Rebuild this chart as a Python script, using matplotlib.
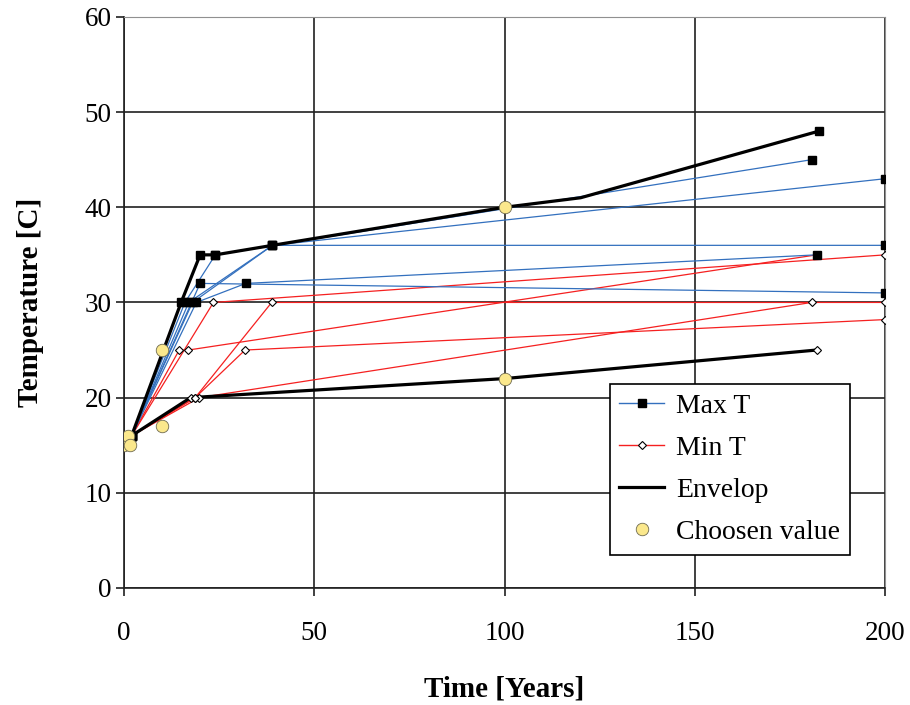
import matplotlib
matplotlib.use("Agg")
import matplotlib.pyplot as plt
from matplotlib.lines import Line2D

plt.rcParams['font.family'] = ['Liberation Serif', 'DejaVu Serif']

# Max T scenarios (time in years, temperature in C)
max_t = [
    [2, 15, 20, 24, 39, 100, 120, 182.6],
    [2, 16, 24, 180.7],
    [2, 17, 39, 200],
    [2, 18, 39, 200],
    [2, 19, 32, 182],
    [2, 20, 200],
]
max_T = [
    [16, 30, 35, 35, 36, 40, 41, 48],
    [16, 30, 35, 45],
    [16, 30, 36, 36],
    [16, 30, 36, 43],
    [16, 30, 32, 35],
    [16, 32, 31],
]
max_marked = [[1, 2, 3, 4, 7], None, None, None, None, None]

# Min T scenarios
min_t = [
    [2, 17.5, 100, 182],
    [2, 18.7, 38.8, 200],
    [2, 19.8, 180.7],
    [2, 18.7, 31.8, 200],
    [2, 14.5, 16.9, 182],
    [2, 23.5, 200],
]
min_T = [
    [16, 20, 22, 25],
    [16, 20, 30, 30],
    [16, 20, 30],
    [16, 20, 25, 28.2],
    [16, 25, 25, 35],
    [16, 30, 35],
]

# Envelopes
env_hi_t = [2, 15, 20, 24, 39, 100, 120, 182.6]
env_hi_T = [16, 30, 35, 35, 36, 40, 41, 48]
env_lo_t = [2, 17.5, 100, 182]
env_lo_T = [16, 20, 22, 25]

# Chosen values
chosen_t = [0, 1, 1.5, 10, 10, 100, 100]
chosen_T = [15, 16, 15, 25, 17, 40, 22]

blue = '#3370be'
red = '#f52020'

fig = plt.figure(figsize=(9.1, 7.05), dpi=100)
ax = fig.add_axes([0.1363, 0.166, 0.8363, 0.81])

for t, T in zip(min_t, min_T):
    ax.plot(t, T, color=red, lw=0.9, zorder=2)
for t, T in zip(max_t, max_T):
    ax.plot(t, T, color=blue, lw=0.9, zorder=3)

ax.plot(env_hi_t, env_hi_T, color='black', lw=2.3, zorder=4)
ax.plot(env_lo_t, env_lo_T, color='black', lw=2.3, zorder=4)

for t, T in zip(min_t, min_T):
    ax.plot(t, T, ls='none', marker='D', ms=4.2, mfc='white', mec='black',
            mew=0.8, zorder=5)
for t, T, mk in zip(max_t, max_T, max_marked):
    ax.plot(t, T, ls='none', marker='s', ms=5.2, color='black',
            markevery=mk, zorder=6)

ax.plot(chosen_t, chosen_T, ls='none', marker='o', ms=9, mfc='#fbe88c',
        mec='#6e6a50', mew=0.6, zorder=7)

ax.set_xlim(0, 200)
ax.set_ylim(0, 60)
ax.set_xticks(range(0, 201, 50))
ax.set_yticks(range(0, 61, 10))
ax.grid(True, color='#202020', lw=1.2)
ax.set_axisbelow(True)
for side in ['top', 'right']:
    ax.spines[side].set_color('#909090')
for side in ['left', 'bottom']:
    ax.spines[side].set_color('#202020')
    ax.spines[side].set_linewidth(1.2)
ax.tick_params(direction='out', length=6, width=1.2, labelsize=19.5,
               colors='#202020', labelcolor='black')
ax.tick_params(axis='x', pad=18)
ax.tick_params(axis='y', pad=3)

ax.set_xlabel('Time [Years]', fontsize=21, fontweight='bold', labelpad=21)
ax.set_ylabel('Temperature [C]', fontsize=21, fontweight='bold', labelpad=29)

handles = [
    Line2D([], [], color=blue, lw=1, marker='s', ms=5.2, mfc='black', mec='black'),
    Line2D([], [], color=red, lw=1, marker='D', ms=4.2, mfc='white', mec='black', mew=0.8),
    Line2D([], [], color='black', lw=2.3),
    Line2D([], [], ls='none', marker='o', ms=9, mfc='#fbe88c', mec='#6e6a50', mew=0.6),
]
leg = ax.legend(handles, ['Max T', 'Min T', 'Envelop', 'Choosen value'],
                loc='lower left', bbox_to_anchor=(0.638, 0.058), fontsize=20,
                frameon=True, fancybox=False, edgecolor='black', framealpha=1,
                labelspacing=0.6, handlelength=1.6, handletextpad=0.45,
                borderpad=0.35, borderaxespad=0)
leg.get_frame().set_linewidth(1.2)
leg.set_zorder(10)

fig.savefig('out.png', dpi=100)
